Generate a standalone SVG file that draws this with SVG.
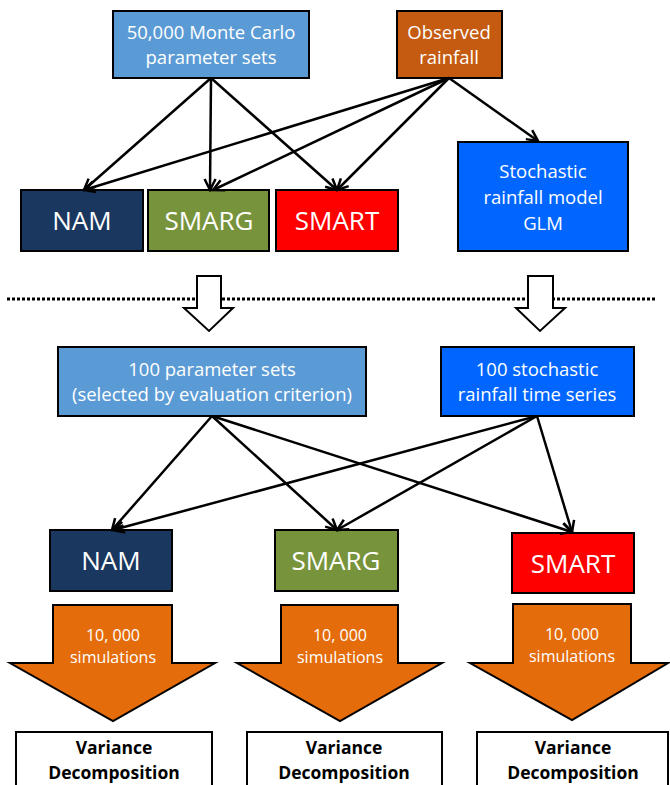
<svg xmlns="http://www.w3.org/2000/svg" width="670" height="785" viewBox="0 0 670 785">
<defs>
<marker id="ah" viewBox="0 0 14 14" refX="12" refY="7" markerWidth="14" markerHeight="14" markerUnits="userSpaceOnUse" orient="auto">
<path d="M1,1.5 L12,7 L1,12.5" fill="none" stroke="#000" stroke-width="2.5"/>
</marker>
</defs>
<style>
.box{stroke:#000;stroke-width:2}
.t{font-family:"Open Sans","Noto Sans",sans-serif;fill:#fff;text-anchor:middle}
.s16{font-size:18.5px}
.big{font-size:26px}
.sim{font-size:16px}
.vd{font-family:"Open Sans","Noto Sans",sans-serif;font-weight:bold;font-size:17.5px;fill:#000;text-anchor:middle}
.c{stroke:#000;stroke-width:2.5;fill:none;marker-end:url(#ah)}
.hollow{fill:#fff;stroke:#000;stroke-width:2}
.orange{fill:#e46c0a;stroke:#000;stroke-width:2}
</style>
<rect width="670" height="785" fill="#fff"/>

<line x1="7" y1="299" x2="655" y2="299" stroke="#000" stroke-width="3" stroke-dasharray="3,2"/>

<g id="mc">
<rect class="box" x="113" y="11" width="196" height="67" fill="#5b9bd5"/>
<text class="t s16" x="211" y="39">50,000 Monte Carlo</text>
<text class="t s16" x="211" y="64">parameter sets</text>
</g>
<g id="obs">
<rect class="box" x="397" y="11" width="105" height="67" fill="#c55a11"/>
<text class="t s16" x="449" y="39">Observed</text>
<text class="t s16" x="449" y="64">rainfall</text>
</g>
<g id="nam1">
<rect class="box" x="21" y="190" width="122" height="61" fill="#1a3760"/>
<text class="t big" x="82" y="230">NAM</text>
</g>
<g id="smarg1">
<rect class="box" x="148" y="190" width="121" height="61" fill="#77933c"/>
<text class="t big" x="209" y="230">SMARG</text>
</g>
<g id="smart1">
<rect class="box" x="276" y="190" width="122" height="61" fill="#ff0000"/>
<text class="t big" x="337" y="230">SMART</text>
</g>
<g id="glm">
<rect class="box" x="458" y="142" width="170" height="109" fill="#0066ff"/>
<text class="t s16" x="543" y="178">Stochastic</text>
<text class="t s16" x="543" y="204">rainfall model</text>
<text class="t s16" x="543" y="230">GLM</text>
</g>

<g id="hollow1">
<path class="hollow" d="M197,276 L221,276 L221,308 L233,308 L209,331 L184,308 L197,308 Z"/>
</g>
<g id="hollow2">
<path class="hollow" d="M528,276 L553,276 L553,308 L565,308 L540,331 L516,308 L528,308 Z"/>
</g>

<g id="params100">
<rect class="box" x="58" y="347" width="308" height="69" fill="#5b9bd5"/>
<text class="t s16" x="212" y="376">100 parameter sets</text>
<text class="t s16" x="212" y="401">(selected by evaluation criterion)</text>
</g>
<g id="stoch100">
<rect class="box" x="441" y="347" width="193" height="69" fill="#0066ff"/>
<text class="t s16" x="537" y="376">100 stochastic</text>
<text class="t s16" x="537" y="401">rainfall time series</text>
</g>

<g id="nam2">
<rect class="box" x="50" y="530" width="122" height="61" fill="#1a3760"/>
<text class="t big" x="111" y="570">NAM</text>
</g>
<g id="smarg2">
<rect class="box" x="275" y="530" width="123" height="61" fill="#77933c"/>
<text class="t big" x="336" y="570">SMARG</text>
</g>
<g id="smart2">
<rect class="box" x="512" y="533" width="122" height="60" fill="#ff0000"/>
<text class="t big" x="573" y="573">SMART</text>
</g>

<g id="sim1">
<path class="orange" d="M53,605 L172,605 L172,663 L215,663 L113,721 L10,663 L53,663 Z"/>
<text class="t sim" x="113" y="641">10, 000</text>
<text class="t sim" x="113" y="663">simulations</text>
</g>
<g id="sim2">
<path class="orange" d="M281,605 L398,605 L398,663 L442,663 L340,721 L237,663 L281,663 Z"/>
<text class="t sim" x="340" y="641">10, 000</text>
<text class="t sim" x="340" y="663">simulations</text>
</g>
<g id="sim3">
<path class="orange" d="M513,604 L631,604 L631,663 L668,663 L572,720 L470,663 L513,663 Z"/>
<text class="t sim" x="572" y="640">10, 000</text>
<text class="t sim" x="572" y="662">simulations</text>
</g>

<g id="vd1">
<rect x="16" y="732" width="196" height="70" fill="#fff" stroke="#000" stroke-width="2"/>
<text class="vd" x="114" y="754">Variance</text>
<text class="vd" x="114" y="779">Decomposition</text>
</g>
<g id="vd2">
<rect x="247" y="732" width="195" height="70" fill="#fff" stroke="#000" stroke-width="2"/>
<text class="vd" x="344" y="754">Variance</text>
<text class="vd" x="344" y="779">Decomposition</text>
</g>
<g id="vd3">
<rect x="477" y="732" width="191" height="70" fill="#fff" stroke="#000" stroke-width="2"/>
<text class="vd" x="573" y="754">Variance</text>
<text class="vd" x="573" y="779">Decomposition</text>
</g>

<g id="connectors">
<line class="c" x1="211" y1="78" x2="84" y2="190"/>
<line class="c" x1="211" y1="78" x2="210" y2="190"/>
<line class="c" x1="211" y1="78" x2="337" y2="190"/>
<line class="c" x1="449" y1="78" x2="84" y2="190"/>
<line class="c" x1="449" y1="78" x2="213" y2="190"/>
<line class="c" x1="449" y1="78" x2="337" y2="190"/>
<line class="c" x1="449" y1="78" x2="538" y2="141"/>
<line class="c" x1="212" y1="416" x2="112" y2="530"/>
<line class="c" x1="212" y1="416" x2="337" y2="530"/>
<line class="c" x1="212" y1="416" x2="572" y2="532"/>
<line class="c" x1="537" y1="416" x2="113" y2="530"/>
<line class="c" x1="537" y1="416" x2="337" y2="530"/>
<line class="c" x1="537" y1="416" x2="572" y2="532"/>
</g>
</svg>
